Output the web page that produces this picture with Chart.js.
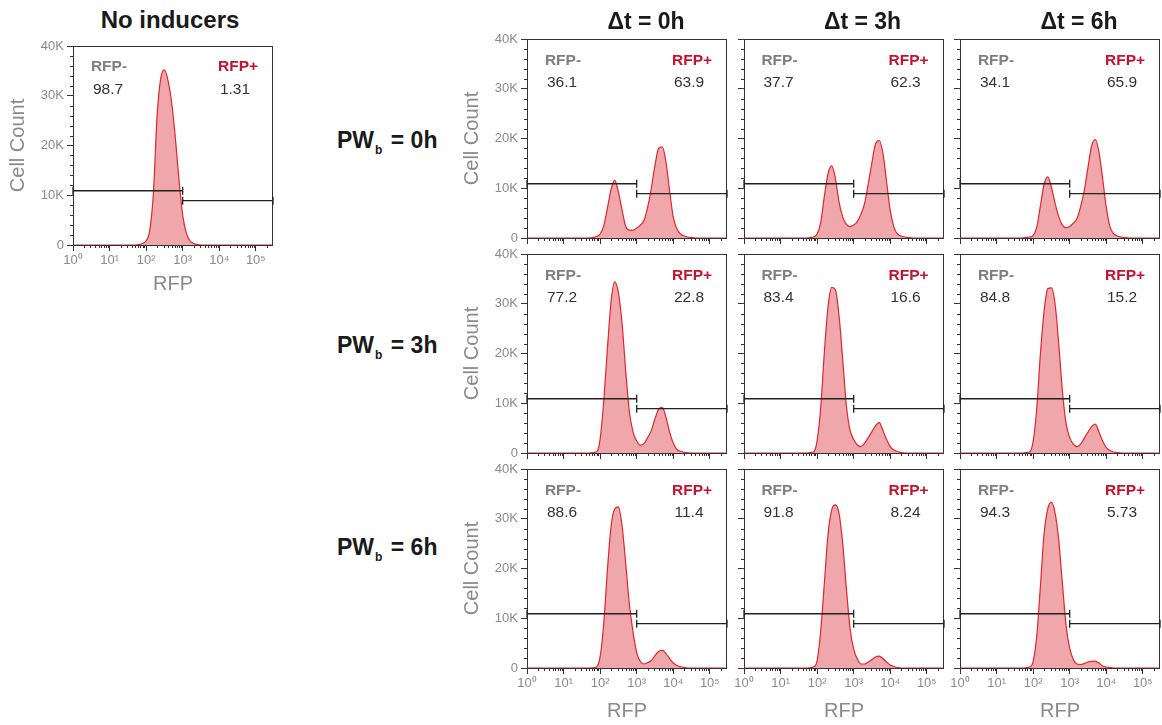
<!DOCTYPE html>
<html>
<head>
<meta charset="utf-8">
<script src="https://cdn.jsdelivr.net/npm/chart.js@4.4.1/dist/chart.umd.min.js"></script>
<style>
body { margin: 0; background: #fff; font-family: "Liberation Sans", Arial, sans-serif; }
#page { position: relative; width: 1162px; height: 725px; overflow: hidden; }
.panel { position: absolute; }
.txt { position: absolute; white-space: nowrap; line-height: 1; text-align: center; width: 160px; }
.row { position: absolute; white-space: nowrap; line-height: 1; font-weight: bold; font-size: 23px; color: #1a1a1a; }
.row sub { font-size: 12px; vertical-align: -6px; margin-left: 1px; margin-right: 2px; }
</style>
</head>
<body>
<div id="page"></div>
<script>
// log10(RFP) bin centres shared by every histogram
const bins = [0, 1.6, 1.7, 1.8, 1.9, 2.0, 2.1, 2.2, 2.3, 2.4, 2.5, 2.6, 2.7, 2.8, 2.9, 3.0,
  3.1, 3.2, 3.3, 3.4, 3.5, 3.6, 3.7, 3.8, 3.9, 4.0, 4.1, 4.2, 4.3, 4.4, 4.5, 4.6, 5.47];

// cell counts in thousands
const noInducers = [0, 0, 0, 0.1, 0.3, 0.8, 3, 10.5, 26, 33.5, 35.2, 33, 28.5, 21.5, 13, 6,
  2.4, 0.8, 0.3, 0.1, 0, 0, 0, 0, 0, 0, 0, 0, 0, 0, 0, 0, 0];

const pw0dt0 = [0, 0, 0, 0.1, 0.3, 0.8, 2.5, 6, 9.8, 11.6, 9.2, 5.6, 2.3, 1.6, 1.6, 2.0,
  2.6, 3.5, 6.2, 10, 14.6, 18, 18.3, 15.3, 9.5, 4.2, 1.8, 0.8, 0.4, 0.2, 0.1, 0, 0];
const pw0dt3 = [0, 0, 0, 0.1, 0.2, 0.8, 3.2, 8.5, 13, 14.5, 12, 7.2, 4.2, 2.8, 2.3, 2.6,
  3.3, 4.8, 7.0, 11, 15.2, 19, 19.6, 17, 11.3, 5.5, 2.2, 0.8, 0.4, 0.2, 0.1, 0, 0];
const pw0dt6 = [0, 0, 0, 0.1, 0.2, 0.5, 2.2, 6.5, 10.8, 12.3, 10.2, 7.0, 4.3, 2.6, 2.1, 2.3,
  3.0, 3.9, 6.3, 9.6, 14.2, 18.5, 19.8, 17.3, 12, 6.2, 2.3, 0.9, 0.4, 0.2, 0.1, 0, 0];

const pw3dt0 = [0, 0, 0, 0.1, 0.2, 2.8, 10.5, 21, 30.5, 34.4, 32.2, 26, 16.5, 8.3, 4.2, 2.4,
  1.6, 1.9, 3.1, 4.5, 6.9, 8.8, 9.2, 7.2, 4.2, 2.0, 0.7, 0.35, 0.15, 0.05, 0, 0, 0];
const pw3dt3 = [0, 0, 0, 0.1, 0.2, 2.5, 9.3, 20.5, 29.5, 33.3, 32.8, 27.5, 18.8, 9.5, 4.6, 2.7,
  1.6, 1.3, 2.0, 3.1, 4.3, 5.5, 6.1, 4.5, 2.7, 1.3, 0.6, 0.3, 0.1, 0, 0, 0, 0];
const pw3dt6 = [0, 0, 0, 0.1, 0.2, 2.3, 9, 20, 28.5, 33, 33.2, 30, 22, 12.5, 6, 3.1,
  1.8, 1.3, 1.8, 3.0, 4.2, 5.3, 5.8, 4.2, 2.4, 1.1, 0.5, 0.2, 0.1, 0, 0, 0, 0];

const pw6dt0 = [0, 0, 0, 0.05, 0.2, 2.3, 9, 19.8, 28.5, 32, 32.4, 28.6, 21, 12.8, 7.2, 3.1,
  1.3, 0.8, 1.1, 1.5, 2.5, 3.3, 3.6, 2.9, 1.9, 1.0, 0.5, 0.25, 0.1, 0, 0, 0, 0];
const pw6dt3 = [0, 0, 0, 0.05, 0.2, 1.5, 7.6, 17.3, 27, 31.8, 32.8, 31, 25, 16, 8, 3.8,
  1.8, 0.8, 0.8, 1.2, 1.7, 2.2, 2.4, 1.9, 1.2, 0.6, 0.3, 0.1, 0, 0, 0, 0, 0];
const pw6dt6 = [0, 0, 0, 0.05, 0.2, 1.3, 6.5, 16.5, 27, 32, 33.3, 31.2, 25.7, 17, 8.6, 4,
  1.7, 0.8, 0.7, 0.9, 1.2, 1.35, 1.4, 1.0, 0.4, 0.2, 0.1, 0, 0, 0, 0, 0, 0];

const grid = [
  [pw0dt0, pw0dt3, pw0dt6],
  [pw3dt0, pw3dt3, pw3dt6],
  [pw6dt0, pw6dt3, pw6dt6]
];

const colTitles = ['Δt = 0h', 'Δt = 3h', 'Δt = 6h'];
const rowTimes = ['0h', '3h', '6h'];
const negPct = [['36.1', '37.7', '34.1'], ['77.2', '83.4', '84.8'], ['88.6', '91.8', '94.3']];
const posPct = [['63.9', '62.3', '65.9'], ['22.8', '16.6', '15.2'], ['11.4', '8.24', '5.73']];
const noIndNeg = '98.7', noIndPos = '1.31';

// gate: RFP- from 10^0 to 10^3, RFP+ from 10^3 to the axis end (K cells level)
const gateSplit = 3;
const gateNegLevel = 10.9, gatePosLevel = 8.9;

const xDecades = [0, 1, 2, 3, 4, 5];
const sup = ['⁰', '¹', '²', '³', '⁴', '⁵'];
const yTicks = [0, 10, 20, 30, 40];

const X_MAX = 5.47;
const PAD_T = 12, PAD_R = 10, Y_W = 72, X_H = 56, PLOT_W = 200, PLOT_H = 199;
const GRAY = '#8a8a8a';

Chart.defaults.font.family = '"Liberation Sans", Arial, sans-serif';

const page = document.getElementById('page');

// frame + minor ticks, drawn under the datasets
const framePlugin = {
  id: 'frame',
  beforeDatasetsDraw(chart) {
    const {ctx, chartArea: a, scales: {x, y}} = chart;
    ctx.save();
    ctx.strokeStyle = '#333';
    ctx.lineWidth = 1;
    ctx.beginPath();
    for (let d = 0; d < 6; d++) {
      for (let k = 2; k < 10; k++) {
        const v = d + Math.log10(k);
        if (v > x.max) continue;
        const px = Math.round(x.getPixelForValue(v)) + 0.5;
        ctx.moveTo(px, a.bottom);
        ctx.lineTo(px, a.bottom + 3);
      }
    }
    for (let v = 2; v < 40; v += 2) {
      if (v % 10 === 0) continue;
      const py = Math.round(y.getPixelForValue(v)) + 0.5;
      ctx.moveTo(a.left - 3, py);
      ctx.lineTo(a.left, py);
    }
    ctx.stroke();
    ctx.strokeRect(Math.round(a.left) + 0.5, Math.round(a.top) + 0.5,
      Math.round(a.width) - 1, Math.round(a.height));
    ctx.restore();
  }
};

function gateSet(x0, x1, level) {
  return {
    data: [{x: x0, y: level}, {x: x1, y: level}],
    borderColor: '#222',
    borderWidth: 1.3,
    pointStyle: 'line',
    rotation: 90,
    pointRadius: 4,
    pointBorderWidth: 1.3,
    pointBorderColor: '#222',
    clip: false
  };
}

function makePanel(L, T, counts, o) {
  const wrap = document.createElement('div');
  wrap.className = 'panel';
  wrap.style.left = (L - Y_W) + 'px';
  wrap.style.top = (T - PAD_T) + 'px';
  const cv = document.createElement('canvas');
  cv.width = Y_W + PLOT_W + PAD_R;
  cv.height = PAD_T + PLOT_H + X_H;
  wrap.appendChild(cv);
  page.appendChild(wrap);

  new Chart(cv, {
    type: 'line',
    data: {
      datasets: [
        gateSet(0, gateSplit, gateNegLevel),
        gateSet(gateSplit, X_MAX, gatePosLevel),
        {
          data: bins.map((b, i) => ({x: b, y: counts[i]})),
          borderColor: '#e1262d',
          borderWidth: 1.2,
          backgroundColor: 'rgba(230, 122, 128, 0.66)',
          fill: 'origin',
          pointRadius: 0,
          cubicInterpolationMode: 'monotone'
        }
      ]
    },
    options: {
      responsive: false,
      animation: false,
      events: [],
      layout: {padding: {top: PAD_T, right: PAD_R, left: 0, bottom: 0}},
      plugins: {legend: {display: false}, tooltip: {enabled: false}},
      scales: {
        x: {
          type: 'linear',
          min: 0,
          max: X_MAX,
          afterFit: s => { s.height = X_H; },
          afterBuildTicks: s => { s.ticks = xDecades.map(v => ({value: v})); },
          grid: {drawOnChartArea: false, tickLength: 6, color: '#333'},
          border: {display: false},
          ticks: {
            display: o.xLabels,
            callback: v => '10' + sup[v],
            color: GRAY,
            font: {size: 13},
            padding: 2,
            maxRotation: 0,
            autoSkip: false
          },
          title: {
            display: o.xLabels,
            text: 'RFP',
            color: GRAY,
            font: {size: 20, lineHeight: 1},
            padding: {top: 0, bottom: o.xTitlePad}
          }
        },
        y: {
          min: 0,
          max: 40,
          afterFit: s => { s.width = Y_W; },
          afterBuildTicks: s => { s.ticks = yTicks.map(v => ({value: v})); },
          grid: {drawOnChartArea: false, tickLength: 6, color: '#333'},
          border: {display: false},
          ticks: {
            display: o.yLabels,
            callback: v => v === 0 ? '0' : v + 'K',
            color: GRAY,
            font: {size: 13},
            padding: 3
          },
          title: {
            display: o.yLabels,
            text: 'Cell Count',
            color: GRAY,
            font: {size: 20, lineHeight: 1},
            padding: {top: 7, bottom: 0}
          }
        }
      }
    },
    plugins: [framePlugin]
  });
}

function addText(str, cx, cy, size, color, bold) {
  const d = document.createElement('div');
  d.className = 'txt';
  d.style.left = (cx - 80) + 'px';
  d.style.top = (cy - size / 2) + 'px';
  d.style.fontSize = size + 'px';
  d.style.color = color;
  d.style.fontWeight = bold ? 'bold' : 'normal';
  d.textContent = str;
  page.appendChild(d);
}

function gateLabels(L, T, neg, pos, dy) {
  addText('RFP-', L + 36, T + dy, 15.5, '#7f7f7f', true);
  addText(neg, L + 35, T + 43, 15.5, '#333', false);
  addText('RFP+', L + 165, T + dy, 15.5, '#c4122f', true);
  addText(pos, L + 162, T + 43, 15.5, '#333', false);
}

// no inducers panel
makePanel(73, 46, noInducers, {xLabels: true, yLabels: true, xTitlePad: 6.5});
gateLabels(73, 46, noIndNeg, noIndPos, 19.5);
addText('No inducers', 170, 20, 24, '#1a1a1a', true);

// 3 x 3 grid
const colLeft = [527, 743.5, 960];
const rowTop = [39, 254, 469];
const rowLabelY = [140.5, 345, 547];

for (let r = 0; r < 3; r++) {
  for (let c = 0; c < 3; c++) {
    makePanel(colLeft[c], rowTop[r], grid[r][c], {
      xLabels: r === 2,
      yLabels: c === 0,
      xTitlePad: 3
    });
    gateLabels(colLeft[c], rowTop[r], negPct[r][c], posPct[r][c], 21);
  }
  const lab = document.createElement('div');
  lab.className = 'row';
  lab.style.left = '337px';
  lab.style.top = (rowLabelY[r] - 11.5) + 'px';
  lab.innerHTML = 'PW<sub>b</sub> = ' + rowTimes[r];
  page.appendChild(lab);
}

for (let c = 0; c < 3; c++) {
  addText(colTitles[c], colLeft[c] + 119, 21, 23, '#1a1a1a', true);
}
</script>
</body>
</html>
